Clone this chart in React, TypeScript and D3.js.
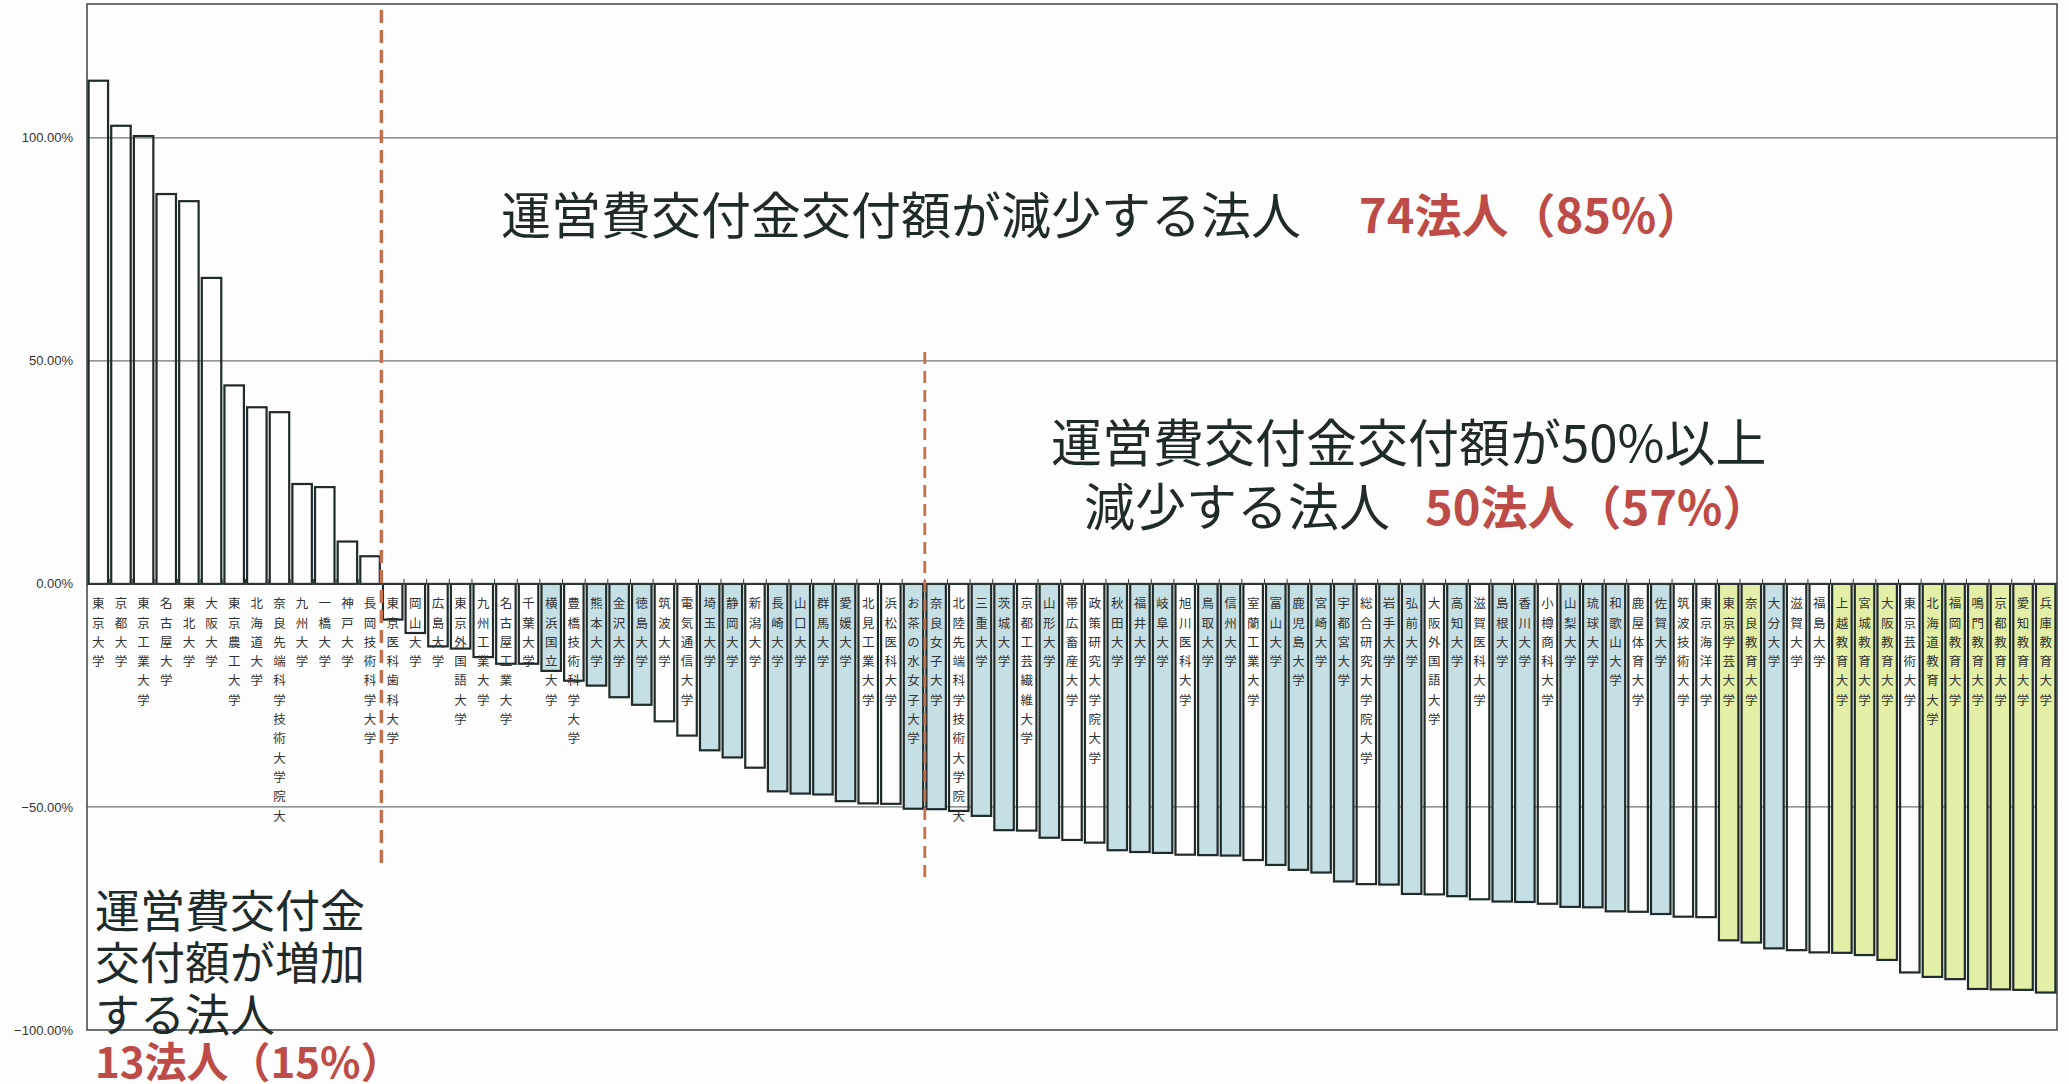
import React, { useEffect, useRef } from 'react'
import * as d3 from 'd3'

// universities, sorted by change in grant (運営費交付金交付額の増減率)
const names: string[] = [
  '東京大学', '京都大学', '東京工業大学', '名古屋大学', '東北大学', '大阪大学', '東京農工大学',
  '北海道大学', '奈良先端科学技術大学院大', '九州大学', '一橋大学', '神戸大学', '長岡技術科学大学',
  '東京医科歯科大学', '岡山大学', '広島大学', '東京外国語大学', '九州工業大学', '名古屋工業大学',
  '千葉大学', '横浜国立大学', '豊橋技術科学大学', '熊本大学', '金沢大学', '徳島大学', '筑波大学',
  '電気通信大学', '埼玉大学', '静岡大学', '新潟大学', '長崎大学', '山口大学', '群馬大学', '愛媛大学',
  '北見工業大学', '浜松医科大学', 'お茶の水女子大学', '奈良女子大学', '北陸先端科学技術大学院大',
  '三重大学', '茨城大学', '京都工芸繊維大学', '山形大学', '帯広畜産大学', '政策研究大学院大学',
  '秋田大学', '福井大学', '岐阜大学', '旭川医科大学', '鳥取大学', '信州大学', '室蘭工業大学',
  '富山大学', '鹿児島大学', '宮崎大学', '宇都宮大学', '総合研究大学院大学', '岩手大学', '弘前大学',
  '大阪外国語大学', '高知大学', '滋賀医科大学', '島根大学', '香川大学', '小樽商科大学', '山梨大学',
  '琉球大学', '和歌山大学', '鹿屋体育大学', '佐賀大学', '筑波技術大学', '東京海洋大学', '東京学芸大学',
  '奈良教育大学', '大分大学', '滋賀大学', '福島大学', '上越教育大学', '宮城教育大学', '大阪教育大学',
  '東京芸術大学', '北海道教育大学', '福岡教育大学', '鳴門教育大学', '京都教育大学', '愛知教育大学',
  '兵庫教育大学',
]

const values: number[] = [
  112.8, 102.7, 100.4, 87.4, 85.8, 68.6, 44.5, 39.6, 38.5, 22.4, 21.7, 9.5, 6.2,
  -8.0, -11.0, -14.0, -14.5, -16.4, -17.9, -17.9, -19.5, -21.7, -22.8, -25.4, -27.1, -30.8,
  -34.0, -37.3, -38.9, -41.2, -46.5, -47.0, -47.2, -48.7, -49.2, -49.3, -50.4, -50.5, -50.9,
  -52.0, -55.2, -55.3, -56.9, -57.4, -58.0, -59.7, -60.1, -60.3, -60.7, -60.8, -60.9, -61.9,
  -63.0, -64.1, -64.7, -66.7, -67.3, -67.4, -69.5, -69.6, -70.0, -70.7, -71.2, -71.3, -71.7,
  -72.4, -72.5, -73.4, -73.5, -74.0, -74.6, -74.7, -79.9, -80.4, -81.7, -82.1, -82.6, -82.7,
  -83.2, -84.3, -87.1, -88.1, -88.6, -90.8, -90.9, -91.0, -91.6,
]

// W = no fill, B = blue, G = yellow-green
const groups: string =
  'WWWWWWWWWWWWW' +
  'WWWWWWWBWBBBWWBBW' +
  'BBBBWWBBWBBWBWWBB' +
  'BWBBWBBBBWBBWBWBBWBB' +
  'BWBWWGGBWWGGGWGGGGGG'

const yTicks: number[] = [100, 50, 0, -50, -100]

const W = 2069
const H = 1084

const App: React.FC = () => {
  const ref = useRef<SVGSVGElement>(null)

  useEffect(() => {
    renderChart()
  }, [])

  const renderChart = () => {
    const left = 87
    const right = 2057
    const top = 4
    const bottom = 1030
    const ink = '#1f2b2a'
    const red = '#bd4b47'
    const dash = '#c4704f'
    const cjk = '"Noto Sans CJK JP", "Noto Sans", sans-serif'

    const svg = d3.select(ref.current)
    svg.selectAll('*').remove()

    svg.append('rect').attr('width', W).attr('height', H).attr('fill', '#fdfdfd')

    const x = d3
      .scaleBand<number>()
      .domain(d3.range(names.length))
      .range([left, right])
      .paddingInner(0.14)
      .paddingOuter(0.07)
    const y = d3.scaleLinear().domain([-100, 130]).range([bottom, top])

    const fill = (g: string) =>
      g === 'B' ? '#c6dfe5' : g === 'G' ? '#e3efa6' : 'none'

    /* grid lines */
    svg
      .append('g')
      .selectAll('line')
      .data([100, 50, -50])
      .enter()
      .append('line')
      .attr('x1', left)
      .attr('x2', right)
      .attr('y1', (d) => y(d))
      .attr('y2', (d) => y(d))
      .attr('stroke', '#6f7574')
      .attr('stroke-width', 1.2)

    /* frame */
    svg
      .append('rect')
      .attr('x', left)
      .attr('y', top)
      .attr('width', right - left)
      .attr('height', bottom - top)
      .attr('fill', 'none')
      .attr('stroke', '#3a4443')
      .attr('stroke-width', 1.5)

    /* y axis labels */
    svg
      .append('g')
      .selectAll('text')
      .data(yTicks)
      .enter()
      .append('text')
      .attr('x', 73)
      .attr('y', (d) => y(d))
      .attr('dy', '0.35em')
      .attr('text-anchor', 'end')
      .attr('font-family', '"Liberation Sans", Arial, sans-serif')
      .attr('font-size', 13)
      .attr('fill', '#333')
      .text((d) => d3.format('.2f')(d) + '%')

    /* bars */
    svg
      .append('g')
      .selectAll('rect')
      .data(values)
      .enter()
      .append('rect')
      .attr('x', (_d, i) => x(i) as number)
      .attr('width', x.bandwidth())
      .attr('y', (d) => y(Math.max(0, d)))
      .attr('height', (d) => Math.abs(y(d) - y(0)))
      .attr('fill', (_d, i) => fill(groups[i]))
      .attr('stroke', ink)
      .attr('stroke-width', 2.2)

    /* zero axis with small ticks between categories */
    svg
      .append('line')
      .attr('x1', left)
      .attr('x2', right)
      .attr('y1', y(0))
      .attr('y2', y(0))
      .attr('stroke', '#2f3a39')
      .attr('stroke-width', 1.6)
    const step = x.step()
    const boundary = (i: number) => (x(i) as number) - (step - x.bandwidth()) / 2
    svg
      .append('g')
      .selectAll('line')
      .data(d3.range(1, names.length))
      .enter()
      .append('line')
      .attr('x1', (i) => boundary(i))
      .attr('x2', (i) => boundary(i))
      .attr('y1', y(0) - 5)
      .attr('y2', y(0))
      .attr('stroke', '#2f3a39')
      .attr('stroke-width', 1)

    /* vertical category labels, one character per line */
    const labels = svg.append('g')
    names.forEach((name, i) => {
      const cx = (x(i) as number) + x.bandwidth() / 2
      Array.from(name).forEach((ch, k) => {
        labels
          .append('text')
          .attr('x', cx)
          .attr('y', y(0) + 20 + k * 19.3)
          .attr('dy', '0.35em')
          .attr('text-anchor', 'middle')
          .attr('font-family', cjk)
          .attr('font-size', 12.5)
          .attr('fill', '#333')
          .text(ch)
      })
    })

    /* dashed separators */
    svg
      .append('line')
      .attr('x1', boundary(13))
      .attr('x2', boundary(13))
      .attr('y1', top + 6)
      .attr('y2', 865)
      .attr('stroke', dash)
      .attr('stroke-width', 3.5)
      .attr('stroke-dasharray', '13 7')
    svg
      .append('line')
      .attr('x1', boundary(37))
      .attr('x2', boundary(37))
      .attr('y1', 352)
      .attr('y2', 884)
      .attr('stroke', dash)
      .attr('stroke-width', 2.8)
      .attr('stroke-dasharray', '12 7')

    /* annotations */
    const note = (
      tx: number,
      ty: number,
      s: string,
      color: string,
      size: number,
      weight: string
    ) =>
      svg
        .append('text')
        .attr('x', tx)
        .attr('y', ty)
        .attr('dominant-baseline', 'central')
        .attr('font-family', cjk)
        .attr('font-size', size)
        .attr('font-weight', weight)
        .attr('fill', color)
        .text(s)

    note(501, 212, '運営費交付金交付額が減少する法人', ink, 50, '400')
    note(1359, 212, '74法人（85%）', red, 47, '700')

    note(1051, 440, '運営費交付金交付額が50%以上', ink, 51, '400')
    note(1084, 504, '減少する法人', ink, 51, '400')
    note(1425, 504, '50法人（57%）', red, 47, '700')

    note(95, 908, '運営費交付金', ink, 45, '400')
    note(95, 960, '交付額が増加', ink, 45, '400')
    note(95, 1012, 'する法人', ink, 45, '400')
    note(95, 1059, '13法人（15%）', red, 42, '700')
  }

  return (
    <svg
      ref={ref}
      width={W}
      height={H}
      style={{ position: 'absolute', left: 0, top: 0, display: 'block' }}
    />
  )
}

export default App
